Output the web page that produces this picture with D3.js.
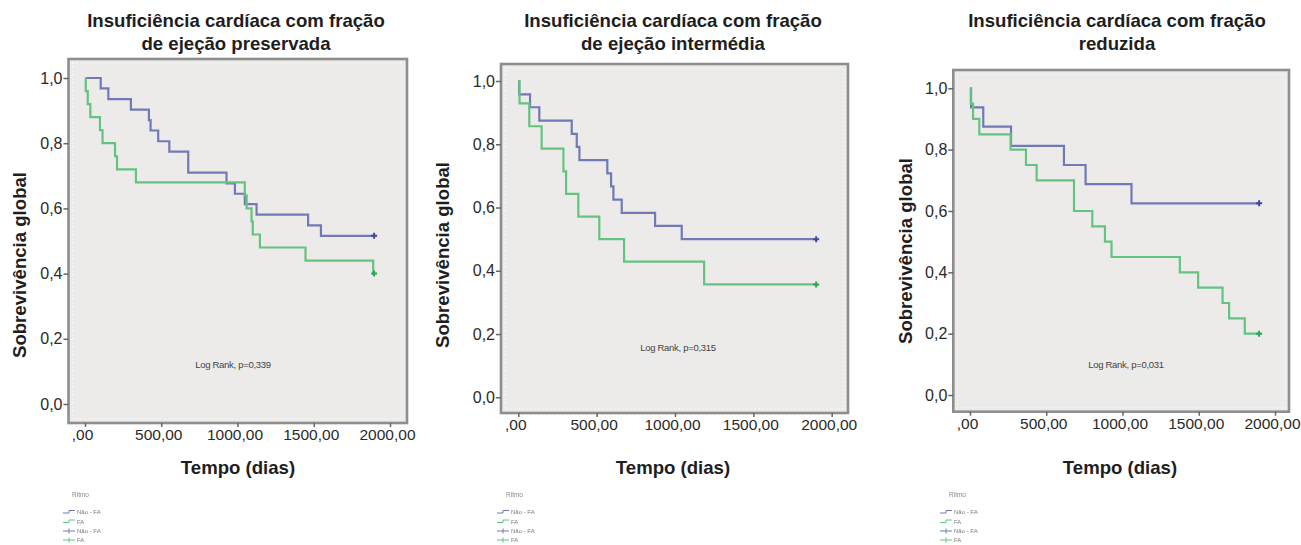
<!DOCTYPE html>
<html>
<head>
<meta charset="utf-8">
<script src="https://cdn.jsdelivr.net/npm/d3@7/dist/d3.min.js"></script>
<style>
  html, body { margin: 0; padding: 0; background: #ffffff; }
  svg { display: block; font-family: "Liberation Sans", Arial, Helvetica, sans-serif; }
</style>
</head>
<body>
<svg id="chart" width="1301" height="545"></svg>
<script>
// Kaplan-Meier survival by rhythm (Não-FA vs FA), three heart-failure subgroups

const panelTitles = [
  ["Insuficiência cardíaca com fração", "de ejeção preservada"],
  ["Insuficiência cardíaca com fração", "de ejeção intermédia"],
  ["Insuficiência cardíaca com fração", "reduzida"]
];
const logRankLabels = ["Log Rank, p=0,339", "Log Rank, p=0,315", "Log Rank, p=0,031"];

const groupNames = ["Não - FA", "FA"];
const legendTitle = "Ritmo";
const xAxisTitle = "Tempo (dias)";
const yAxisTitle = "Sobrevivência global";

const xTicks = [0, 500, 1000, 1500, 2000];
const xTickLabels = [",00", "500,00", "1000,00", "1500,00", "2000,00"];
const yTicks = [0, 0.2, 0.4, 0.6, 0.8, 1.0];
const yTickLabels = ["0,0", "0,2", "0,4", "0,6", "0,8", "1,0"];

// Preserved ejection fraction
const presNaoFaTime = [0, 103, 153, 301, 419, 430, 480, 553, 677, 928, 983, 1048, 1125, 1463, 1547, 1896];
const presNaoFaSurv = [1, 0.968, 0.935, 0.903, 0.871, 0.839, 0.806, 0.774, 0.710, 0.677, 0.645, 0.613, 0.581, 0.548, 0.516, 0.516];
const presFaTime = [0, 5, 18, 35, 98, 115, 197, 210, 334, 1048, 1060, 1092, 1100, 1147, 1446, 1890, 1896];
const presFaSurv = [1, 0.96, 0.92, 0.88, 0.84, 0.80, 0.76, 0.72, 0.68, 0.64, 0.60, 0.56, 0.52, 0.48, 0.44, 0.40, 0.40];

// Mid-range ejection fraction
const midNaoFaTime = [0, 5, 75, 134, 341, 373, 390, 568, 592, 607, 660, 873, 1043, 1901];
const midNaoFaSurv = [1, 0.958, 0.917, 0.875, 0.833, 0.792, 0.750, 0.708, 0.667, 0.625, 0.583, 0.542, 0.500, 0.500];
const midFaTime = [0, 8, 70, 149, 288, 305, 383, 517, 675, 1186, 1901];
const midFaSurv = [1, 0.929, 0.857, 0.786, 0.714, 0.643, 0.571, 0.500, 0.429, 0.357, 0.357];

// Reduced ejection fraction
const redNaoFaTime = [0, 7, 87, 269, 616, 758, 1059, 1896];
const redNaoFaSurv = [1, 0.9375, 0.875, 0.8125, 0.75, 0.6875, 0.625, 0.625];
const redFaTime = [0, 5, 20, 61, 266, 367, 437, 682, 802, 885, 928, 1376, 1496, 1656, 1699, 1802, 1896];
const redFaSurv = [1, 0.95, 0.90, 0.85, 0.80, 0.75, 0.70, 0.60, 0.55, 0.50, 0.45, 0.40, 0.35, 0.30, 0.25, 0.20, 0.20];

const seriesByPanel = [
  [[presNaoFaTime, presNaoFaSurv], [presFaTime, presFaSurv]],
  [[midNaoFaTime, midNaoFaSurv], [midFaTime, midFaSurv]],
  [[redNaoFaTime, redNaoFaSurv], [redFaTime, redFaSurv]]
];

// Layout of each panel (pixel geometry)
const layout = [
  { x0: 85,    x1: 390,   y0: 404,   y1: 78,   left: 68.5,  right: 407,  top: 59, bottom: 423,
    titleX: 236,  yLabelX: 20,  yLabelY: 265, xLabelX: 238, logX: 233,  logY: 368, legX: 63 },
  { x0: 518.3, x1: 831.7, y0: 397.3, y1: 81,   left: 501,   right: 848,  top: 64, bottom: 413,
    titleX: 673,  yLabelX: 443, yLabelY: 255, xLabelX: 673, logX: 678,  logY: 351, legX: 497 },
  { x0: 970,   x1: 1275,  y0: 395,   y1: 88.3, left: 953.3, right: 1289, top: 70, bottom: 411.7,
    titleX: 1117, yLabelX: 906, yLabelY: 251, xLabelX: 1120, logX: 1126, logY: 368, legX: 940 }
];

const lineColors = ["#717ab6", "#63c480"];
const markColors = ["#3d4a9c", "#2aa656"];

const svg = d3.select("#chart");
const defs = svg.append("defs");
defs.append("filter").attr("id", "soft")
  .append("feGaussianBlur").attr("stdDeviation", 0.35);
defs.append("filter").attr("id", "legblur")
  .append("feGaussianBlur").attr("stdDeviation", 0.5);

layout.forEach((L, pi) => {
  const g = svg.append("g");
  const x = d3.scaleLinear().domain([0, 2000]).range([L.x0, L.x1]);
  const y = d3.scaleLinear().domain([0, 1]).range([L.y0, L.y1]);

  // title
  panelTitles[pi].forEach((line, li) => {
    g.append("text")
      .attr("x", L.titleX).attr("y", 27 + li * 23)
      .attr("text-anchor", "middle")
      .attr("font-size", 18.6).attr("font-weight", "bold").attr("fill", "#1e1e1e")
      .text(line);
  });

  // plot frame
  g.append("rect")
    .attr("x", L.left).attr("y", L.top)
    .attr("width", L.right - L.left).attr("height", L.bottom - L.top)
    .attr("fill", "#ecebea").attr("stroke", "#8e8e8e").attr("stroke-width", 2.6);
  g.append("rect")
    .attr("x", L.left + 4).attr("y", L.top + 4)
    .attr("width", L.right - L.left - 8).attr("height", L.bottom - L.top - 8)
    .attr("fill", "none").attr("stroke", "#ffffff").attr("stroke-width", 1)
    .attr("stroke-dasharray", "1.5,2.5").attr("opacity", 0.8);

  // y axis
  const yAxis = d3.axisLeft(y).tickValues(yTicks)
    .tickFormat((d, i) => yTickLabels[i]).tickSize(5).tickSizeOuter(0).tickPadding(1);
  const ya = g.append("g").attr("transform", `translate(${L.left},0)`).call(yAxis);
  ya.select(".domain").remove();
  ya.selectAll(".tick line").attr("stroke", "#666").attr("stroke-width", 1.5);
  ya.selectAll(".tick text").attr("font-size", 16).attr("fill", "#2a2a2a")
    .attr("font-family", "\"Liberation Sans\", Arial, sans-serif");

  // x axis
  const xAxis = d3.axisBottom(x).tickValues(xTicks)
    .tickFormat((d, i) => xTickLabels[i]).tickSize(4).tickSizeOuter(0).tickPadding(2);
  const xa = g.append("g").attr("transform", `translate(0,${L.bottom})`).call(xAxis);
  xa.select(".domain").remove();
  xa.selectAll(".tick line").attr("stroke", "#666").attr("stroke-width", 1.5);
  xa.selectAll(".tick text").attr("font-size", 15.5).attr("fill", "#2a2a2a")
    .attr("dx", -3)
    .attr("font-family", "\"Liberation Sans\", Arial, sans-serif");

  // axis titles
  g.append("text")
    .attr("x", L.xLabelX).attr("y", 474)
    .attr("text-anchor", "middle").attr("font-size", 18.6).attr("font-weight", "bold")
    .attr("fill", "#1e1e1e").text(xAxisTitle);
  g.append("text")
    .attr("transform", `translate(${L.yLabelX + 6},${L.yLabelY}) rotate(-90)`)
    .attr("text-anchor", "middle").attr("font-size", 18.6).attr("font-weight", "bold")
    .attr("fill", "#1e1e1e").text(yAxisTitle);

  // survival curves
  const step = d3.line().x(d => x(d[0])).y(d => y(d[1])).curve(d3.curveStepAfter);
  seriesByPanel[pi].forEach(([times, surv], si) => {
    const pts = times.map((t, i) => [t, surv[i]]);
    g.append("path").datum(pts)
      .attr("d", step).attr("fill", "none")
      .attr("stroke", lineColors[si]).attr("stroke-width", 2.2)
      .attr("filter", "url(#soft)");
    const last = pts[pts.length - 1];
    const cx = x(last[0]), cy = y(last[1]);
    g.append("path")
      .attr("d", `M${cx - 3},${cy}H${cx + 3}M${cx},${cy - 3}V${cy + 3}`)
      .attr("stroke", markColors[si]).attr("stroke-width", 2);
  });

  // log-rank annotation
  g.append("text")
    .attr("x", L.logX).attr("y", L.logY)
    .attr("text-anchor", "middle").attr("font-size", 9.5).attr("fill", "#444")
    .attr("letter-spacing", -0.3)
    .text(logRankLabels[pi]);

  // legend
  const lg = g.append("g").attr("filter", "url(#legblur)");
  lg.append("text").attr("x", L.legX + 9).attr("y", 497)
    .attr("font-size", 6.5).attr("fill", "#8a8a8a").text(legendTitle);
  const rowsY = [512, 521.5, 531, 540];
  rowsY.forEach((ry, ri) => {
    const si = ri % 2;
    const col = lineColors[si];
    if (ri < 2) {
      lg.append("path")
        .attr("d", `M${L.legX},${ry + 1}H${L.legX + 6}V${ry - 1.5}H${L.legX + 12}`)
        .attr("fill", "none").attr("stroke", col).attr("stroke-width", 1);
    } else {
      lg.append("path")
        .attr("d", `M${L.legX},${ry}H${L.legX + 12}M${L.legX + 6},${ry - 2.5}V${ry + 2.5}`)
        .attr("fill", "none").attr("stroke", col).attr("stroke-width", 1);
    }
    lg.append("text").attr("x", L.legX + 14).attr("y", ry + 2)
      .attr("font-size", 6).attr("fill", "#7a7a7a").text(groupNames[si]);
  });
});
</script>
</body>
</html>
